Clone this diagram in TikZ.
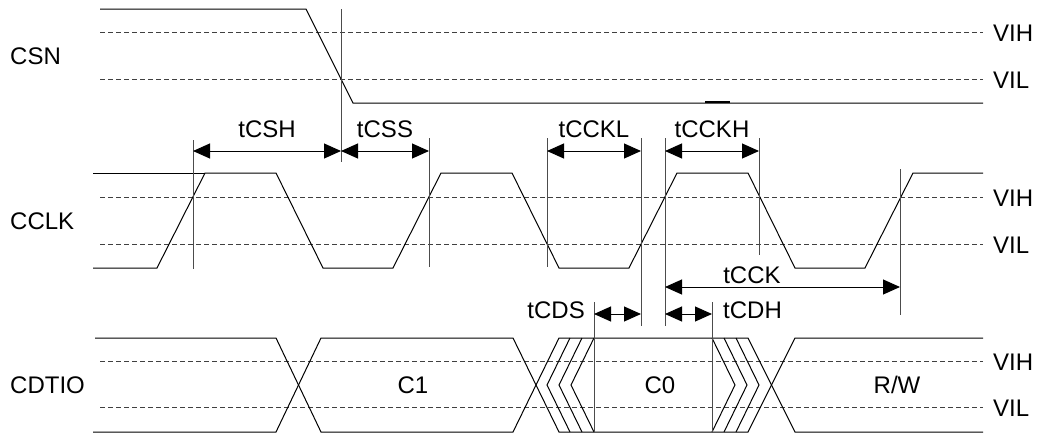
\documentclass[tikz,border=0pt]{standalone}
\usepackage{fontspec}
\setmainfont{Liberation Sans}
\usetikzlibrary{arrows.meta}
\tikzset{
	sig/.style={line width=1pt},
	lvl/.style={line width=0.8pt,black!75,dash pattern=on 5pt off 3pt},
	guide/.style={line width=0.9pt,black!70},
	dim/.style={line width=1pt,{Triangle[length=17pt,width=15pt]}-{Triangle[length=17pt,width=15pt]}},
	lbl/.style={font=\fontsize{24}{28}\selectfont,inner sep=0pt},
}
\begin{document}
\begin{tikzpicture}[x=1pt,y=-1pt]
	\useasboundingbox (0,0) rectangle (1039,434);
	% signal names
	\node[lbl,anchor=west] (csn)   at (10,56)  {CSN};
	\node[lbl,anchor=west] (cclk)  at (10,221) {CCLK};
	\node[lbl,anchor=west] (cdtio) at (10,385) {CDTIO};
	% thresholds
	\foreach \y/\t in {32/VIH,79/VIL,197/VIH,244/VIL,361/VIH,407/VIL}{
		\draw[lvl] (100,\y) -- (983,\y);
		\node[lbl,anchor=west] (v\y) at (993,\y+1) {\t};
	}
	% CSN
	\draw[sig] (100,9) -- (306,9) -- (353,103) -- (983,103);
	\draw[line width=2pt] (705,102) -- (730,102);
	% CCLK
	\draw[sig] (93,173) -- (205,173);
	\draw[sig] (93,268) -- (157,268) -- (205,173) -- (276,173) -- (323,268) -- (393,268) -- (441,173) -- (512,173) -- (559,268) -- (629,268) -- (677,173) -- (748,173) -- (795,268) -- (865,268) -- (913,173) -- (983,173);
	% CDTIO
	\draw[sig] (95,338) -- (276,338) -- (321,432) -- (513,432) -- (559,338) -- (748,338) -- (795,432) -- (983,432);
	\draw[sig] (93,432) -- (276,432) -- (321,338) -- (513,338) -- (559,432) -- (748,432) -- (795,338) -- (983,338);
	\foreach \x in {570,582,594} \draw[sig] (\x,338) -- (\x-23,385) -- (\x,432);
	\foreach \x in {712,724,736} \draw[sig] (\x,338) -- (\x+23,385) -- (\x,432);
	\node[lbl] (c1) at (413,385) {C1};
	\node[lbl] (c0) at (660,385) {C0};
	\node[lbl] (rw) at (897,385) {R/W};
	% guides
	\coordinate (a1) at (193,151);
	\coordinate (a2) at (341,151);
	\coordinate (a3) at (429,151);
	\coordinate (a4) at (547,151);
	\coordinate (a5) at (641,151);
	\coordinate (a6) at (665,151);
	\coordinate (a7) at (759,151);
	\coordinate (b1) at (665,287);
	\coordinate (b2) at (900,287);
	\coordinate (d1) at (594,314);
	\coordinate (d2) at (641,314);
	\coordinate (d3) at (665,314);
	\coordinate (d4) at (712,314);
	\draw[guide] (193,140) -- (193,269);
	\draw[guide] (341,9) -- (341,162);
	\draw[guide] (429,138) -- (429,267);
	\draw[guide] (547,138) -- (547,267);
	\draw[guide] (641,138) -- (641,326);
	\draw[guide] (665,138) -- (665,326);
	\draw[guide] (759,138) -- (759,255);
	\draw[guide] (900,169) -- (900,315);
	\draw[guide] (594,302) -- (594,432);
	\draw[guide] (712,302) -- (712,432);
	% timings
	\draw[dim] (a1) -- node[lbl,above=13pt] (tcsh) {tCSH} (a2);
	\draw[dim] (a2) -- node[lbl,above=13pt] (tcss) {tCSS} (a3);
	\draw[dim] (a4) -- node[lbl,above=13pt] (tcckl) {tCCKL} (a5);
	\draw[dim] (a6) -- node[lbl,above=13pt] (tcckh) {tCCKH} (a7);
	\draw[dim] (b1) -- node[lbl,pos=.37,above=3pt] (tcck) {tCCK} (b2);
	\draw[dim] (d1) -- (d2);
	\draw[dim] (d3) -- (d4);
	\node[lbl,anchor=east] (tcds) at (585,310) {tCDS};
	\node[lbl,anchor=west] (tcdh) at (723,310) {tCDH};
\end{tikzpicture}
\end{document}
